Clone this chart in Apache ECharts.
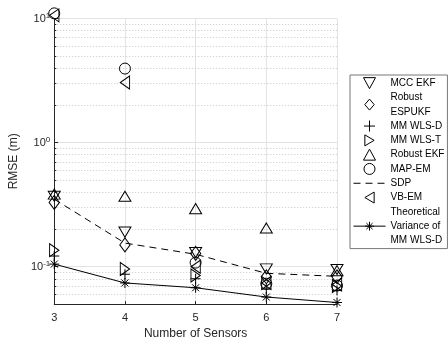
<!DOCTYPE html>
<html>
<head>
<meta charset="utf-8">
<script src="https://cdn.jsdelivr.net/npm/echarts@6/dist/echarts.min.js"></script>
<style>
  html, body { margin: 0; padding: 0; background: #ffffff; }
  #chart { width: 448px; height: 345px; }
</style>
</head>
<body>
<div id="chart"></div>
<script>
// Number of sensors on the x axis
const sensors = [3, 4, 5, 6, 7];

// RMSE (m) of each estimator
const mccEkf       = [0.37, 0.19, 0.13, 0.096, 0.095];
const robustEspukf = [0.33, 0.15, 0.128, 0.083, 0.083];
const mmWlsD       = [0.122, 0.087, 0.08, 0.066, 0.0645];
const mmWlsT       = [0.136, 0.096, 0.085, 0.074, 0.07];
const robustEkf    = [0.385, 0.37, 0.294, 0.205, 0.093];
const mapEm        = [11.0, 3.95, 0.108, 0.073, 0.0705];
const sdp          = [0.35, 0.155, 0.126, 0.0885, 0.0837];
const vbEm         = [10.6, 3.05, 0.1, 0.074, 0.072];
const theoretical  = [0.105, 0.074, 0.0677, 0.057, 0.0515];

// y tick labels (base, exponent) and the minor grid values
const yTickLabels = { '0.1': ['10', '-1'], '1': ['10', '0'], '10': ['10', '1'] };
const minorGrid = [0.06, 0.07, 0.08, 0.09, 0.2, 0.3, 0.4, 0.5, 0.6, 0.7, 0.8, 0.9,
                   2, 3, 4, 5, 6, 7, 8, 9];

const FONT = '"Liberation Sans", Arial, Helvetica, sans-serif';
const INK = '#262626';

// Hollow marker shapes
const SYM = {
  triDown:  'path://M0,0L12,0L6,11Z',
  triUp:    'path://M6,0L12,11L0,11Z',
  triRight: 'path://M0,0L11,6.5L0,13Z',
  triLeft:  'path://M11,0L0,6.5L11,13Z',
  diamond:  'path://M6,0L12,7L6,14L0,7Z',
  plus:     'path://M5,0L5,10M0,5L10,5',
  star:     'path://M5,0L5,10M0,5L10,5M1.5,1.5L8.5,8.5M1.5,8.5L8.5,1.5'
};

const pairs = vals => sensors.map((s, i) => [s, vals[i]]);

const hollow = { color: 'rgba(0,0,0,0)', borderColor: '#000', borderWidth: 1, opacity: 1 };

function scatter(name, vals, symbol, size) {
  return {
    name, type: 'scatter', data: pairs(vals),
    symbol, symbolSize: size, symbolKeepAspect: true,
    itemStyle: hollow, clip: false, silent: true, z: 3
  };
}

const series = [
  scatter('MCC EKF', mccEkf, SYM.triDown, [12, 11]),
  scatter('Robust\nESPUKF', robustEspukf, SYM.diamond, [12, 14]),
  scatter('MM WLS-D', mmWlsD, SYM.plus, [10, 10]),
  scatter('MM WLS-T', mmWlsT, SYM.triRight, [11, 13]),
  scatter('Robust EKF', robustEkf, SYM.triUp, [12, 11]),
  scatter('MAP-EM', mapEm, 'circle', 11),
  {
    name: 'SDP', type: 'line', data: pairs(sdp),
    symbol: 'none', color: '#000',
    lineStyle: { color: '#000', width: 1, type: [7, 5] },
    silent: true, z: 2,
    markLine: {
      silent: true, symbol: 'none', label: { show: false },
      lineStyle: { color: '#c8c8c8', width: 1, type: [1, 2] },
      data: minorGrid.map(v => ({ yAxis: v })),
      z: 0
    }
  },
  scatter('VB-EM', vbEm, SYM.triLeft, [11, 13]),
  {
    name: 'Theoretical\nVariance of\nMM WLS-D', type: 'line', data: pairs(theoretical),
    symbol: SYM.star, symbolSize: 10, showSymbol: true, color: '#000',
    itemStyle: { color: 'rgba(0,0,0,0)', borderColor: '#000', borderWidth: 1 },
    lineStyle: { color: '#000', width: 1 },
    silent: true, z: 3
  }
];

const legendData = series.map(s =>
  s.name === 'SDP' ? { name: s.name, itemStyle: { opacity: 0 } } : { name: s.name });

const chart = echarts.init(document.getElementById('chart'), null, { renderer: 'canvas' });
chart.setOption({
  animation: false,
  backgroundColor: '#ffffff',
  textStyle: { fontFamily: FONT },
  grid: { left: 52, right: 111, top: 18.5, bottom: 35.5 },
  xAxis: {
    type: 'value', min: 3, max: 7, interval: 1,
    name: 'Number of Sensors', nameLocation: 'middle', nameGap: 21,
    nameTextStyle: { fontFamily: FONT, fontSize: 12, color: INK },
    axisLine: { lineStyle: { color: INK, width: 1 } },
    axisTick: { inside: true, length: 3, lineStyle: { color: INK } },
    axisLabel: { fontFamily: FONT, fontSize: 11, color: INK, margin: 8 },
    splitLine: { show: true, lineStyle: { color: '#e3e3e3', width: 1 } }
  },
  yAxis: [{
    type: 'log', logBase: 10, min: 0.05, max: 10,
    name: 'RMSE (m)', nameLocation: 'middle', nameGap: 32, nameRotate: 90,
    nameTextStyle: { fontFamily: FONT, fontSize: 12, color: INK },
    axisLine: { show: true, lineStyle: { color: INK, width: 1 } },
    axisTick: { inside: true, length: 4, lineStyle: { color: INK } },
    axisLabel: {
      margin: 4, fontFamily: FONT, color: INK,
      formatter: v => {
        const key = String(Math.round(v * 1000) / 1000);
        const t = yTickLabels[key];
        return t ? '{b|' + t[0] + '}{e|' + t[1] + '}' : '';
      },
      rich: {
        b: { fontSize: 11, fontFamily: FONT, color: INK },
        e: { fontSize: 8, fontFamily: FONT, color: INK, verticalAlign: 'top', padding: [0, 0, 6, 0] }
      }
    },
    splitLine: { show: true, lineStyle: { color: '#e3e3e3', width: 1 } }
  }, {
    type: 'log', logBase: 10, min: 0.05, max: 10, position: 'left',
    axisLine: { show: false },
    axisTick: { show: true, inside: true, length: 2, customValues: minorGrid, lineStyle: { color: INK } },
    axisLabel: { show: false },
    splitLine: { show: false }
  }],
  legend: {
    orient: 'vertical', left: 350, top: 75,
    itemWidth: 32, itemHeight: 11, itemGap: 0,
    padding: [1, 3, 1, 3],
    borderColor: '#777', borderWidth: 1, backgroundColor: '#fff',
    itemStyle: { borderWidth: 1 },
    lineStyle: { width: 1 },
    textStyle: { fontFamily: FONT, fontSize: 10, lineHeight: 14.3, color: '#000' },
    selectedMode: false,
    data: legendData
  },
  series
});
</script>
</body>
</html>
